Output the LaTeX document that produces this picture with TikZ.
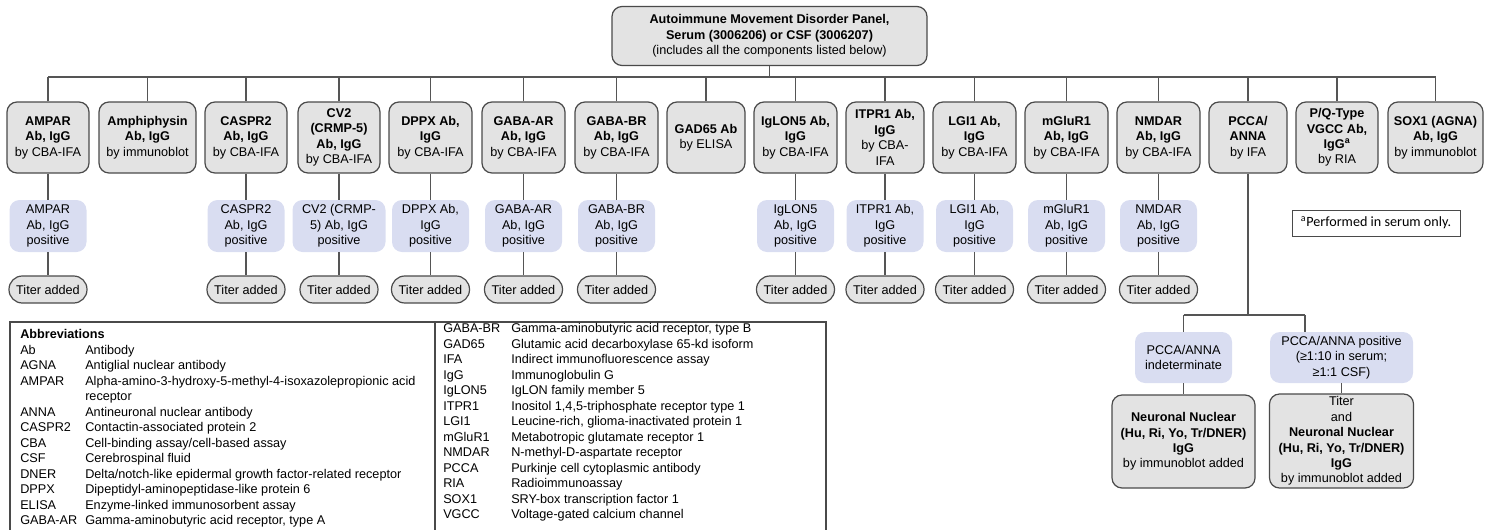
\documentclass[tikz,border=0pt]{standalone}
\usepackage{fontspec}
\setmainfont{Liberation Sans}
\newfontfamily\calib{Carlito}
\definecolor{grayf}{HTML}{E3E3E3}
\definecolor{bluef}{HTML}{D9DDF1}
\definecolor{bordc}{HTML}{4A4A4A}
\definecolor{linec}{HTML}{555555}
\begin{document}
\begin{tikzpicture}[x=0.75pt,y=-0.75pt,
  every node/.style={font=\fontsize{9.5}{11.6}\selectfont, align=center, inner sep=0pt},
  lvlbox/.style={draw=bordc, line width=0.9pt, fill=grayf, rounded corners=7.5pt, minimum height=53.25pt, minimum width=#1},
  lvlbox/.default=61.5pt,
  posbox/.style={fill=bluef, rounded corners=7.5pt, minimum height=39pt, minimum width=#1},
  posbox/.default=57.75pt,
  titbox/.style={draw=bordc, line width=0.9pt, fill=grayf, rounded corners=10pt, minimum height=20.25pt, minimum width=58.5pt},
  conn/.style={draw=linec, line width=0.8pt},
  abl/.style={anchor=base west, align=left, font=\fontsize{9.5}{11}\selectfont},
]
\useasboundingbox (0,0) rectangle (1492,529);

% top
\node[lvlbox=236.25pt, minimum height=44.25pt] (top) at (769.5,36)
  {\textbf{Autoimmune Movement Disorder Panel,}\\\textbf{Serum (3006206) or CSF (3006207)}\\(includes all the components listed below)};
\coordinate (bus) at (769.5,77);
\coordinate (busl) at (48,77);
\coordinate (busr) at (1435.5,77);
\draw[conn] (top.south) -- (bus);
\draw[conn] (busl) -- (busr);

% level 1
\node[lvlbox] (ampar) at (48,137.5) {\textbf{AMPAR}\\\textbf{Ab, IgG}\\by CBA-IFA};
\node[lvlbox=72.75pt] (amph) at (147.5,137.5) {\textbf{Amphiphysin}\\\textbf{Ab, IgG}\\by immunoblot};
\node[lvlbox] (caspr) at (246,137.5) {\textbf{CASPR2}\\\textbf{Ab, IgG}\\by CBA-IFA};
\node[lvlbox] (cv) at (339,137.5) {\textbf{CV2}\\\textbf{(CRMP-5)}\\\textbf{Ab, IgG}\\by CBA-IFA};
\node[lvlbox=62.25pt] (dppx) at (430.5,137.5) {\textbf{DPPX Ab,}\\\textbf{IgG}\\by CBA-IFA};
\node[lvlbox=62.25pt] (gabaa) at (523.5,137.5) {\textbf{GABA-AR}\\\textbf{Ab, IgG}\\by CBA-IFA};
\node[lvlbox=62.25pt] (gabab) at (616.5,137.5) {\textbf{GABA-BR}\\\textbf{Ab, IgG}\\by CBA-IFA};
\node[lvlbox=58.5pt] (gad) at (706,137.5) {\textbf{GAD65 Ab}\\by ELISA};
\node[lvlbox=62.25pt] (iglon) at (795.5,137.5) {\textbf{IgLON5 Ab,}\\\textbf{IgG}\\by CBA-IFA};
\node[lvlbox=58.5pt] (itpr) at (885,137.5) {\textbf{ITPR1 Ab,}\\\textbf{IgG}\\by CBA-\\IFA};
\node[lvlbox=62.25pt] (lgi) at (974.5,137.5) {\textbf{LGI1 Ab,}\\\textbf{IgG}\\by CBA-IFA};
\node[lvlbox=62.25pt] (mglur) at (1066.5,137.5) {\textbf{mGluR1}\\\textbf{Ab, IgG}\\by CBA-IFA};
\node[lvlbox=62.25pt] (nmdar) at (1158.5,137.5) {\textbf{NMDAR}\\\textbf{Ab, IgG}\\by CBA-IFA};
\node[lvlbox=58.5pt] (pcca) at (1248,137.5) {\textbf{PCCA/}\\\textbf{ANNA}\\by IFA};
\node[lvlbox] (pq) at (1337,137.5) {\textbf{P/Q-Type}\\\textbf{VGCC Ab,}\\\textbf{IgG\textsuperscript{a}}\\by RIA};
\node[lvlbox=71.25pt] (sox) at (1435.5,137.5) {\textbf{SOX1 (AGNA)}\\\textbf{Ab, IgG}\\by immunoblot};

\foreach \n in {ampar,amph,caspr,cv,dppx,gabaa,gabab,gad,iglon,itpr,lgi,mglur,nmdar,pcca,pq,sox}
  \draw[conn] (\n.north) -- (\n.north |- bus);

% positive boxes
\node[posbox] (amparp) at (48,226) {AMPAR\\Ab, IgG\\positive};
\node[posbox] (casprp) at (246,226) {CASPR2\\Ab, IgG\\positive};
\node[posbox=69.75pt] (cvp) at (339,226) {CV2 (CRMP-\\5) Ab, IgG\\positive};
\node[posbox] (dppxp) at (430.5,226) {DPPX Ab,\\IgG\\positive};
\node[posbox] (gabaap) at (523.5,226) {GABA-AR\\Ab, IgG\\positive};
\node[posbox] (gababp) at (616.5,226) {GABA-BR\\Ab, IgG\\positive};
\node[posbox] (iglonp) at (795.5,226) {IgLON5\\Ab, IgG\\positive};
\node[posbox] (itprp) at (885,226) {ITPR1 Ab,\\IgG\\positive};
\node[posbox] (lgip) at (974.5,226) {LGI1 Ab,\\IgG\\positive};
\node[posbox] (mglurp) at (1066.5,226) {mGluR1\\Ab, IgG\\positive};
\node[posbox] (nmdarp) at (1158.5,226) {NMDAR\\Ab, IgG\\positive};

% titer boxes
\node[titbox] (ampart) at (48,289.5) {Titer added};
\node[titbox] (casprt) at (246,289.5) {Titer added};
\node[titbox] (cvt) at (339,289.5) {Titer added};
\node[titbox] (dppxt) at (430.5,289.5) {Titer added};
\node[titbox] (gabaat) at (523.5,289.5) {Titer added};
\node[titbox] (gababt) at (616.5,289.5) {Titer added};
\node[titbox] (iglont) at (795.5,289.5) {Titer added};
\node[titbox] (itprt) at (885,289.5) {Titer added};
\node[titbox] (lgit) at (974.5,289.5) {Titer added};
\node[titbox] (mglurt) at (1066.5,289.5) {Titer added};
\node[titbox] (nmdart) at (1158.5,289.5) {Titer added};

\foreach \n in {ampar,caspr,cv,dppx,gabaa,gabab,iglon,itpr,lgi,mglur,nmdar}{
  \draw[conn] (\n.south) -- (\n p.north);
  \draw[conn] (\n p.south) -- (\n t.north);
}

% PCCA branch
\coordinate (pj) at (1248,315);
\coordinate (pl) at (1183.5,315);
\coordinate (pr) at (1305,315);
\node[posbox=72.75pt, minimum height=38.25pt] (indet) at (1183.5,357.5) {PCCA/ANNA\\indeterminate};
\node[posbox=107.25pt, minimum height=38.25pt] (ppos) at (1341.5,357.5) {PCCA/ANNA positive\\(≥1:10 in serum;\\≥1:1 CSF)};
\node[lvlbox=107.25pt, minimum height=69.75pt] (nn1) at (1183.5,441.5)
  {\textbf{Neuronal Nuclear}\\\textbf{(Hu, Ri, Yo, Tr/DNER)}\\\textbf{IgG}\\by immunoblot added};
\node[lvlbox=108pt, minimum height=70.5pt] (nn2) at (1341.5,441)
  {Titer\\and\\\textbf{Neuronal Nuclear}\\\textbf{(Hu, Ri, Yo, Tr/DNER)}\\\textbf{IgG}\\by immunoblot added};
\draw[conn] (pcca.south) -- (pj);
\draw[conn] (pl) -- (pr);
\draw[conn] (pl) -- (indet.north);
\draw[conn] (pr) -- (pr |- ppos.north);
\draw[conn] (indet.south) -- (nn1.north);
\draw[conn] (ppos.south) -- (nn2.north);

% footnote
\node[draw=bordc, line width=0.7pt, minimum width=126pt, minimum height=19.5pt, font=\calib\fontsize{10.6}{12}\selectfont] (fn) at (1376,223) {\textsuperscript{a}Performed in serum only.};

% abbreviation table
\draw[draw=bordc, line width=0.8pt] (10,540) -- (10,322) -- (826,322) -- (826,540);
\draw[draw=bordc, line width=0.8pt] (435,322) -- (435,540);

\node[abl] (abh) at (20,338.5) {\textbf{Abbreviations}};
\node[abl] (a1) at (20,354) {Ab};        \node[abl] (d1) at (85,354) {Antibody};
\node[abl] (a2) at (20,369.5) {AGNA};    \node[abl] (d2) at (85,369.5) {Antiglial nuclear antibody};
\node[abl] (a3) at (20,385) {AMPAR};     \node[abl] (d3) at (85,385) {Alpha-amino-3-hydroxy-5-methyl-4-isoxazolepropionic acid};
\node[abl] (d3b) at (85,400.5) {receptor};
\node[abl] (a4) at (20,416) {ANNA};      \node[abl] (d4) at (85,416) {Antineuronal nuclear antibody};
\node[abl] (a5) at (20,431.5) {CASPR2};  \node[abl] (d5) at (85,431.5) {Contactin-associated protein 2};
\node[abl] (a6) at (20,447) {CBA};       \node[abl] (d6) at (85,447) {Cell-binding assay/cell-based assay};
\node[abl] (a7) at (20,462.5) {CSF};     \node[abl] (d7) at (85,462.5) {Cerebrospinal fluid};
\node[abl] (a8) at (20,478) {DNER};      \node[abl] (d8) at (85,478) {Delta/notch-like epidermal growth factor-related receptor};
\node[abl] (a9) at (20,493.5) {DPPX};    \node[abl] (d9) at (85,493.5) {Dipeptidyl-aminopeptidase-like protein 6};
\node[abl] (a10) at (20,509) {ELISA};    \node[abl] (d10) at (85,509) {Enzyme-linked immunosorbent assay};
\node[abl] (a11) at (20,524.5) {GABA-AR};\node[abl] (d11) at (85,524.5) {Gamma-aminobutyric acid receptor, type A};

\node[abl] (b1) at (443,332.8) {GABA-BR};  \node[abl] (e1) at (511,332.8) {Gamma-aminobutyric acid receptor, type B};
\node[abl] (b2) at (443,348.3) {GAD65};    \node[abl] (e2) at (511,348.3) {Glutamic acid decarboxylase 65-kd isoform};
\node[abl] (b3) at (443,363.8) {IFA};      \node[abl] (e3) at (511,363.8) {Indirect immunofluorescence assay};
\node[abl] (b4) at (443,379.3) {IgG};      \node[abl] (e4) at (511,379.3) {Immunoglobulin G};
\node[abl] (b5) at (443,394.8) {IgLON5};   \node[abl] (e5) at (511,394.8) {IgLON family member 5};
\node[abl] (b6) at (443,410.3) {ITPR1};    \node[abl] (e6) at (511,410.3) {Inositol 1,4,5-triphosphate receptor type 1};
\node[abl] (b7) at (443,425.8) {LGI1};     \node[abl] (e7) at (511,425.8) {Leucine-rich, glioma-inactivated protein 1};
\node[abl] (b8) at (443,441.3) {mGluR1};   \node[abl] (e8) at (511,441.3) {Metabotropic glutamate receptor 1};
\node[abl] (b9) at (443,456.8) {NMDAR};    \node[abl] (e9) at (511,456.8) {N-methyl-D-aspartate receptor};
\node[abl] (b10) at (443,472.3) {PCCA};    \node[abl] (e10) at (511,472.3) {Purkinje cell cytoplasmic antibody};
\node[abl] (b11) at (443,487.8) {RIA};     \node[abl] (e11) at (511,487.8) {Radioimmunoassay};
\node[abl] (b12) at (443,503.3) {SOX1};    \node[abl] (e12) at (511,503.3) {SRY-box transcription factor 1};
\node[abl] (b13) at (443,518.8) {VGCC};    \node[abl] (e13) at (511,518.8) {Voltage-gated calcium channel};
\end{tikzpicture}
\end{document}
